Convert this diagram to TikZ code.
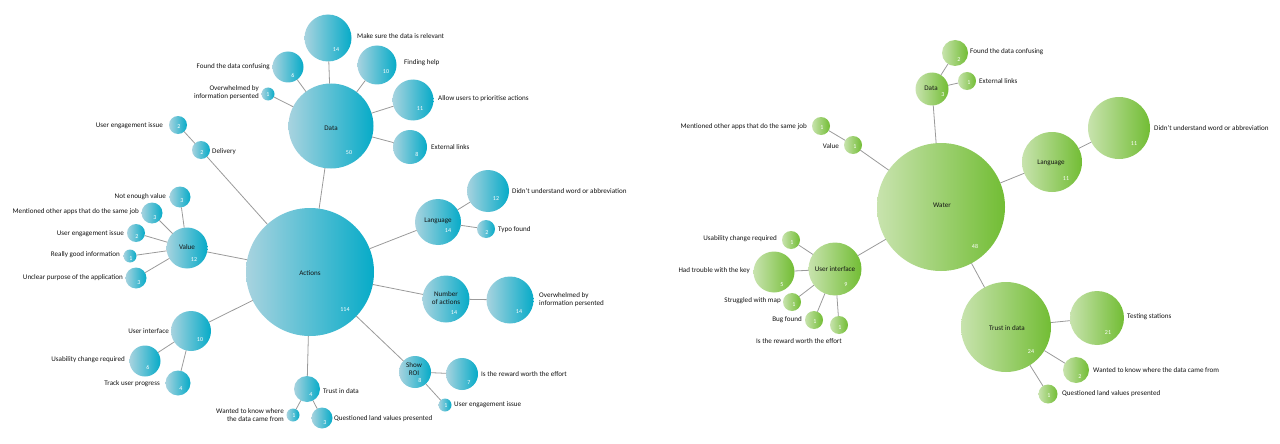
\documentclass[tikz,border=0pt]{standalone}
\usepackage{fontspec}
\setmainfont{Carlito}
\definecolor{bL}{HTML}{A8D3DF}
\definecolor{bR}{HTML}{06ABC8}
\definecolor{gL}{HTML}{C8E3AE}
\definecolor{gR}{HTML}{72BD34}
\definecolor{ln}{HTML}{9A9A9A}
\definecolor{tx}{HTML}{141414}
\tikzset{
  bub/.style={circle, inner sep=0pt, outer sep=0pt, minimum size=#1},
  bb/.style={bub=#1, left color=bL, right color=bR},
  gb/.style={bub=#1, left color=gL, right color=gR},
  num/.style={text=white, font=\fontsize{6}{6.5}\selectfont, inner sep=0pt},
  lab/.style={text=tx, font=\fontsize{7.1}{8}\selectfont, inner sep=0pt},
  labw/.style={lab, anchor=west, align=left},
  labe/.style={lab, anchor=east, align=right},
  conn/.style={draw=ln, line width=0.8pt}
}
\begin{document}
\begin{tikzpicture}[x=1pt,y=-1pt]
\useasboundingbox (0,0) rectangle (1280,444);
% ================= LEFT (blue) =================
\node[bb=128pt] (actions) at (310,272) {};
\node[bb=85pt] (dataL) at (331,126) {};
\node[bb=47pt] (relevant) at (328,38) {};
\node[bb=31pt] (confusing) at (288,67) {};
\node[bb=39pt] (help) at (377,65) {};
\node[bb=13pt] (overw1) at (268,94) {};
\node[bb=41pt] (prior) at (413,100) {};
\node[bb=34pt] (extL) at (410,147) {};
\node[bb=18pt] (uei1) at (178,125) {};
\node[bb=18pt] (delivery) at (201,150) {};
\node[bb=41pt] (value) at (187,248) {};
\node[bb=21pt] (notenough) at (180,197) {};
\node[bb=21pt] (mentioned) at (152,213) {};
\node[bb=18pt] (uei2) at (136,233) {};
\node[bb=13pt] (reallygood) at (130,256) {};
\node[bb=21pt] (unclear) at (136,278) {};
\node[bb=46pt] (language) at (438,222) {};
\node[bb=42pt] (didnt) at (488,191) {};
\node[bb=18pt] (typo) at (486,229) {};
\node[bb=47pt] (numact) at (446,299) {};
\node[bb=47pt] (overw14) at (510,300) {};
\node[bb=32pt] (showroi) at (415,372) {};
\node[bb=32pt] (reward) at (462,374) {};
\node[bb=13pt] (uei3) at (445,405) {};
\node[bb=26pt] (trustL) at (307,389) {};
\node[bb=13pt] (wanted) at (293,415) {};
\node[bb=21pt] (questioned) at (322,418) {};
\node[bb=40pt] (ui) at (191,331) {};
\node[bb=31pt] (usability) at (145,361) {};
\node[bb=25pt] (track) at (178,383) {};

\foreach \a/\b in {actions/dataL, dataL/relevant, dataL/confusing, dataL/help, dataL/overw1,
  dataL/prior, dataL/extL, actions/delivery, delivery/uei1, actions/value, value/notenough,
  value/mentioned, value/uei2, value/reallygood, value/unclear, actions/language,
  language/didnt, language/typo, actions/numact, numact/overw14, actions/showroi,
  showroi/reward, showroi/uei3, actions/trustL, trustL/wanted, trustL/questioned,
  actions/ui, ui/usability, ui/track}
  \draw[conn] (\a) -- (\b);

% labels inside / numbers
\node[lab] (tActions) at (310,273) {Actions};
\node[num] (nActions) at (345,310) {114};
\node[lab] (tDataL) at (331,128) {Data};
\node[num] (nDataL) at (349,153) {50};
\node[num] (nRel) at (336,50) {14};
\node[num] (nConf) at (293,75) {6};
\node[num] (nHelp) at (386,72) {10};
\node[num] (nOv1) at (268,95) {1};
\node[num] (nPrior) at (420,109) {11};
\node[num] (nExt) at (417,154) {8};
\node[num] (nUei1) at (179,127) {2};
\node[num] (nDel) at (202,153) {2};
\node[lab] (tValue) at (187,247) {Value};
\node[num] (nValue) at (194,260) {12};
\node[num] (nNot) at (182,201) {3};
\node[num] (nMen) at (155,218) {3};
\node[num] (nUei2) at (137,237) {2};
\node[num] (nReal) at (131,259) {1};
\node[num] (nUncl) at (139,283) {3};
\node[lab] (tLang) at (438,221) {Language};
\node[num] (nLang) at (448,231) {14};
\node[num] (nDidnt) at (496,199) {12};
\node[num] (nTypo) at (487,233) {2};
\node[lab, align=center] (tNum) at (446,298) {Number\\of actions};
\node[num] (nNum) at (454,313) {14};
\node[num] (nOv14) at (519,312) {14};
\node[lab, align=center] (tShow) at (414,369) {Show\\ROI};
\node[num] (nShow) at (420,380) {8};
\node[num] (nRew) at (469,383) {7};
\node[num] (nUei3) at (446,406) {1};
\node[num] (nTrustL) at (311,395) {4};
\node[num] (nWant) at (294,416) {1};
\node[num] (nQuest) at (325,423) {3};
\node[num] (nUI) at (200,340) {10};
\node[num] (nUsab) at (148,367) {6};
\node[num] (nTrack) at (181,389) {4};

% outside labels
\node[labw] (lRel) at (357,36) {Make sure the data is relevant};
\node[labe] (lConf) at (270,67) {Found the data confusing};
\node[labw] (lHelp) at (404,63) {Finding help};
\node[labe] (lOv1) at (259,93) {Overwhelmed by\\information persented};
\node[labw] (lPrior) at (438,99) {Allow users to prioritise actions};
\node[labw] (lExt) at (431,147) {External links};
\node[labe] (lUei1) at (163,126) {User engagement issue};
\node[labw] (lDel) at (212,152) {Delivery};
\node[labe] (lNot) at (166,197) {Not enough value};
\node[labe] (lMen) at (139,212) {Mentioned other apps that do the same job};
\node[labe] (lUei2) at (124,234) {User engagement issue};
\node[labe] (lReal) at (120,255) {Really good information};
\node[labe] (lUncl) at (123,278) {Unclear purpose of the application};
\node[labw] (lDidnt) at (512,191) {Didn't understand word or abbreviation};
\node[labw] (lTypo) at (498,230) {Typo found};
\node[labw] (lOv14) at (539,300) {Overwhelmed by\\information persented};
\node[labw] (lRew) at (481,374) {Is the reward worth the effort};
\node[labw] (lUei3) at (454,405) {User engagement issue};
\node[labw] (lTrustL) at (323,391) {Trust in data};
\node[labe] (lWant) at (284,415) {Wanted to know where\\the data came from};
\node[labw] (lQuest) at (334,419) {Questioned land values presented};
\node[labe] (lUI) at (169,331) {User interface};
\node[labe] (lUsab) at (125,360) {Usability change required};
\node[labe] (lTrack) at (160,384) {Track user progress};

% ================= RIGHT (green) =================
\node[gb=128pt] (water) at (941,207) {};
\node[gb=33pt] (dataR) at (932,89) {};
\node[gb=26pt] (confR) at (955,53) {};
\node[gb=18pt] (extR) at (967,81) {};
\node[gb=18pt] (mentR) at (821,126) {};
\node[gb=18pt] (valueR) at (853,145) {};
\node[gb=60pt] (langR) at (1052,162) {};
\node[gb=62pt] (didntR) at (1119,128) {};
\node[gb=53pt] (uiR) at (835,269) {};
\node[gb=18pt] (usabR) at (791,240) {};
\node[gb=41pt] (trouble) at (774,272) {};
\node[gb=18pt] (struggled) at (792,302) {};
\node[gb=18pt] (bug) at (814,320) {};
\node[gb=18pt] (rewardR) at (839,325) {};
\node[gb=90pt] (trustR) at (1006,327) {};
\node[gb=54pt] (testing) at (1097,318) {};
\node[gb=26pt] (wantedR) at (1076,370) {};
\node[gb=19pt] (questR) at (1048,394) {};

\foreach \a/\b in {water/dataR, dataR/confR, dataR/extR, water/valueR, valueR/mentR,
  water/langR, langR/didntR, water/uiR, uiR/usabR, uiR/trouble, uiR/struggled, uiR/bug,
  uiR/rewardR, water/trustR, trustR/testing, trustR/wantedR, trustR/questR}
  \draw[conn] (\a) -- (\b);

\node[lab] (tWater) at (942,205) {Water};
\node[num] (nWater) at (975,246) {48};
\node[lab] (tDataR) at (931,88) {Data};
\node[num] (nDataR) at (943,95) {3};
\node[num] (nConfR) at (959,60) {2};
\node[num] (nExtR) at (969,83) {1};
\node[num] (nMentR) at (822,128) {1};
\node[num] (nValR) at (855,147) {1};
\node[lab] (tLangR) at (1051,163) {Language};
\node[num] (nLangR) at (1066,179) {11};
\node[num] (nDidntR) at (1134,144) {11};
\node[lab] (tUIR) at (835,269) {User interface};
\node[num] (nUIR) at (846,285) {9};
\node[num] (nUsabR) at (792,243) {1};
\node[num] (nTrouble) at (782,285) {5};
\node[num] (nStrug) at (794,305) {1};
\node[num] (nBug) at (815,322) {1};
\node[num] (nRewR) at (840,328) {1};
\node[lab] (tTrustR) at (1007,328) {Trust in data};
\node[num] (nTrustR) at (1031,352) {24};
\node[num] (nTest) at (1108,333) {21};
\node[num] (nWantR) at (1080,377) {2};
\node[num] (nQuestR) at (1049,396) {1};

\node[labw] (lConfR) at (970,52) {Found the data confusing};
\node[labw] (lExtR) at (979,81) {External links};
\node[labe] (lMentR) at (807,127) {Mentioned other apps that do the same job};
\node[labe] (lValR) at (839,146) {Value};
\node[labw] (lDidntR) at (1154,128) {Didn't understand word or abbreviation};
\node[labe] (lUsabR) at (777,239) {Usability change required};
\node[labe] (lTrouble) at (750,271) {Had trouble with the key};
\node[labe] (lStrug) at (781,301) {Struggled with map};
\node[labe] (lBug) at (802,320) {Bug found};
\node[lab] (lRewR) at (799,341) {Is the reward worth the effort};
\node[labw] (lTest) at (1127,317) {Testing stations};
\node[labw] (lWantR) at (1093,370) {Wanted to know where the data came from};
\node[labw] (lQuestR) at (1062,394) {Questioned land values presented};
\end{tikzpicture}
\end{document}
